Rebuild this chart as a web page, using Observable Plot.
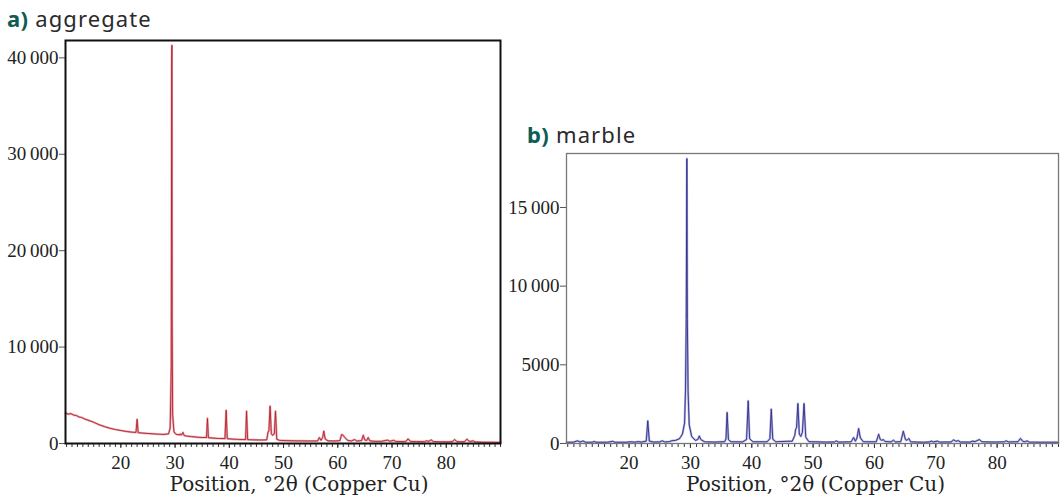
<!DOCTYPE html>
<html>
<head>
<meta charset="utf-8">
<script src="https://cdn.jsdelivr.net/npm/d3@7"></script>
<script src="https://cdn.jsdelivr.net/npm/@observablehq/plot@0.6"></script>
<style>
  html, body { margin: 0; padding: 0; background: #fff; }
  #wrap { position: relative; width: 1064px; height: 497px; overflow: hidden; }
  .ttl { position: absolute; font-family: "Noto Sans", sans-serif; font-size: 22px; line-height: 26px; color: #2a2a2a; letter-spacing: 1.1px; white-space: nowrap; }
  .ttl b { color: #0d5c55; font-weight: 700; letter-spacing: 0.4px; }
  .panel { position: absolute; }
</style>
</head>
<body>
<div id="wrap">
  <div class="ttl" style="left:7px; top:5px;"><b>a)</b> aggregate</div>
  <div class="ttl" style="left:527px; top:121px;"><b>b)</b> marble</div>
  <div class="panel" id="pa" style="left:0px; top:30px;"></div>
  <div class="panel" id="pb" style="left:500px; top:140px;"></div>
</div>
<script>
// ---- data ----
const axisTitle = "Position, °2θ (Copper Cu)";
const xMajorTicks = [20, 30, 40, 50, 60, 70, 80];
const xMinorTicks = d3.range(10, 91, 1);
const aggYTicks = [0, 10000, 20000, 30000, 40000];
const marbleYTicks = [0, 5000, 10000, 15000];

const aggTheta = [9.8,10.3,10.8,11.3,11.8,12.3,12.8,13.3,13.8,14.3,15,16,17,18,19,20,21,22,22.8,23.0,23.2,24,25,26,27,28,28.8,29.1,29.3,29.38,29.42,29.46,29.55,29.8,30.2,30.8,30.95,31.1,31.3,31.45,31.65,32,33,34,35,35.8,35.97,36.15,37,38,39.2,39.42,39.62,40.5,41.5,43.0,43.18,43.38,44.5,46,46.9,47.15,47.3,47.52,47.75,48.0,48.3,48.52,48.75,49.2,50.5,52,53.5,55,56.3,56.6,56.9,57.2,57.42,57.7,58.2,59.5,60.4,60.7,60.95,61.3,61.8,62.5,63.1,63.5,64.4,64.7,65.0,65.35,65.6,65.9,66.7,68,69.2,69.6,70.3,70.7,72,72.6,72.95,73.4,74.5,76,76.35,76.8,77.2,77.6,79,80.5,81.2,81.55,81.9,82.5,83.4,83.8,84.2,84.6,84.9,85.3,86.5,88,90];
const aggCounts = [3150,3050,3100,2950,2900,2750,2700,2550,2450,2350,2200,1950,1750,1580,1450,1350,1250,1180,1150,2500,1120,1080,1040,1000,960,940,1000,1600,8000,39000,41300,13000,3000,1200,950,900,1000,880,950,1150,850,780,720,660,620,620,2600,600,560,520,510,3450,500,460,430,410,3350,400,380,360,380,1200,1300,3870,1000,850,1000,3350,450,330,300,280,270,260,270,620,330,600,1280,450,280,260,300,930,870,620,330,260,410,260,300,860,350,320,620,280,230,220,350,230,330,220,200,230,480,220,200,190,280,220,380,210,180,170,220,410,220,180,200,450,240,220,280,170,140,130,110];

const marbleTheta = [9.8,11,11.6,12,12.5,12.9,14,14.3,14.6,16.5,17.3,17.7,19.5,20.2,21,21.5,22,22.8,23.05,23.3,24,25,25.4,25.8,26.6,27,27.6,28.2,28.7,29.05,29.2,29.32,29.42,29.5,29.62,29.8,30.2,30.8,31.2,31.45,31.7,32.3,34,35.6,35.8,35.98,36.2,36.6,38.5,39.15,39.42,39.65,40.2,42.5,42.95,43.18,43.42,43.9,46.6,47.0,47.15,47.3,47.52,47.75,48.0,48.25,48.52,48.8,49.3,52,53.5,53.8,54.1,56.2,56.6,56.9,57.15,57.42,57.7,58.2,60.3,60.68,60.95,61.2,61.45,61.7,62.7,63.1,63.4,64.3,64.7,65.05,65.3,65.6,65.9,67,68,69.0,69.25,69.6,70.3,70.6,72.5,72.9,73.3,73.7,74,75.6,76.0,76.4,77.1,77.5,79.5,81.2,81.5,81.8,83.4,83.8,84.2,84.6,84.9,85.2,87,90];
const marbleCounts = [80,90,170,90,160,80,80,130,80,80,140,80,80,110,90,120,90,150,1440,150,90,100,170,100,120,180,200,300,600,1300,3400,7900,18100,7900,3300,1200,450,200,250,480,250,110,90,120,300,1970,250,110,100,250,2710,300,110,110,300,2180,280,110,150,500,900,1000,2540,600,450,700,2540,400,120,90,100,170,90,110,380,150,350,950,350,110,110,590,250,200,250,130,100,210,100,120,780,250,200,320,110,90,80,100,150,100,150,90,100,230,140,180,90,90,150,120,250,110,90,110,170,100,110,320,130,110,170,90,80,80];

// ---- helpers ----
const fmt = n => n >= 10000 ? d3.format(",")(n).replace(/,/g, "\u2009") : String(n);
const agg = aggTheta.map((t, i) => ({t, c: aggCounts[i]}));
const marble = marbleTheta.map((t, i) => ({t, c: marbleCounts[i]}));

function panel({data, width, height, margins, yDomain, yTicks, halo, core, frameColor, frameWidth, labelDx}) {
  return Plot.plot({
    width, height,
    marginLeft: margins[0], marginRight: margins[1], marginTop: margins[2], marginBottom: margins[3],
    x: {domain: [9.8, 90], axis: null},
    y: {domain: yDomain, axis: null},
    style: {fontFamily: "'Liberation Serif', serif", fontSize: "19px", color: "#222", background: "transparent", overflow: "visible"},
    marks: [
      Plot.line(data, {x: "t", y: "c", stroke: halo, strokeWidth: 2.2, curve: "linear"}),
      Plot.line(data, {x: "t", y: "c", stroke: core, strokeWidth: 0.9, curve: "linear"}),
      Plot.axisX({ticks: xMinorTicks, tickSize: 4, tickFormat: () => "", label: null, stroke: "#333"}),
      Plot.axisX({ticks: xMajorTicks, tickSize: 5, tickPadding: 7, tickFormat: d => String(d), label: null, fontSize: 19, stroke: "#333"}),
      Plot.axisY({ticks: yTicks, tickSize: 6, tickPadding: 1, tickFormat: fmt, label: null, fontSize: 19, stroke: "#555"}),
      Plot.text([axisTitle], {frameAnchor: "bottom", dx: labelDx, dy: 47, lineAnchor: "bottom", fontSize: 20, fontFamily: "'DejaVu Serif', serif", fill: "#222"}),
      Plot.frame({stroke: frameColor, strokeWidth: frameWidth})
    ]
  });
}

document.getElementById("pa").append(panel({
  data: agg, width: 510, height: 467, margins: [65, 10, 10, 54],
  yDomain: [0, 41800], yTicks: aggYTicks,
  halo: "#e3a7ad", core: "#b8202c", frameColor: "#111", frameWidth: 2, labelDx: 16
}));

document.getElementById("pb").append(panel({
  data: marble, width: 564, height: 357, margins: [66, 6, 13, 54],
  yDomain: [0, 18430], yTicks: marbleYTicks,
  halo: "#b0b0dc", core: "#2c2c8c", frameColor: "#777", frameWidth: 1.3, labelDx: 3
}));
</script>
</body>
</html>
